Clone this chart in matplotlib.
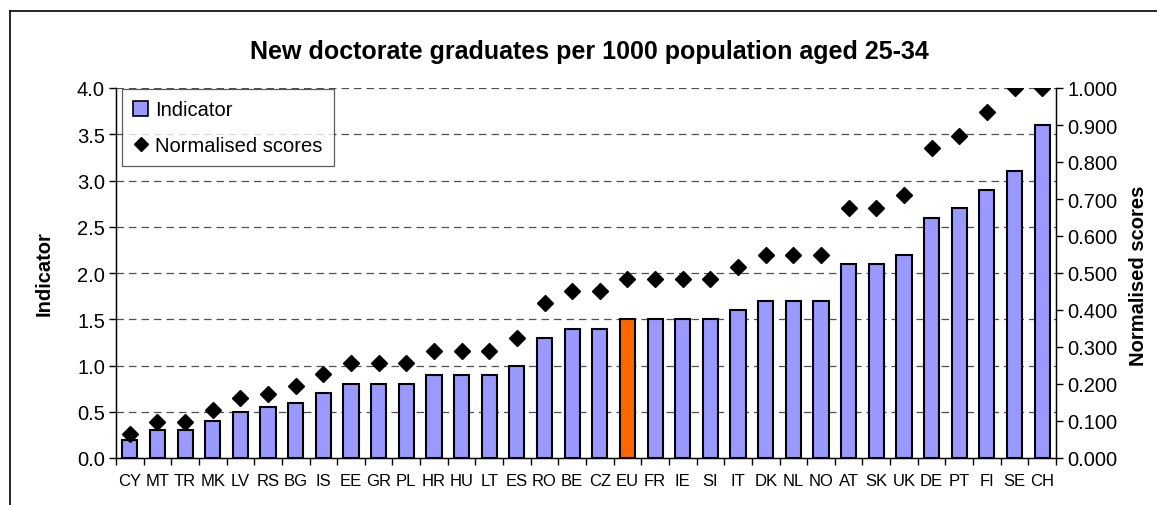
import matplotlib.pyplot as plt
from matplotlib.lines import Line2D
from matplotlib.patches import Patch

plt.rcParams['font.family'] = ['Liberation Sans', 'DejaVu Sans']

countries = ["CY", "MT", "TR", "MK", "LV", "RS", "BG", "IS", "EE", "GR", "PL", "HR",
             "HU", "LT", "ES", "RO", "BE", "CZ", "EU", "FR", "IE", "SI", "IT", "DK",
             "NL", "NO", "AT", "SK", "UK", "DE", "PT", "FI", "SE", "CH"]
indicator = [0.2, 0.3, 0.3, 0.4, 0.5, 0.55, 0.6, 0.7, 0.8, 0.8, 0.8, 0.9,
             0.9, 0.9, 1.0, 1.3, 1.4, 1.4, 1.5, 1.5, 1.5, 1.5, 1.6, 1.7,
             1.7, 1.7, 2.1, 2.1, 2.2, 2.6, 2.7, 2.9, 3.1, 3.6]
scores = [0.065, 0.097, 0.097, 0.129, 0.161, 0.174, 0.194, 0.226, 0.258, 0.258, 0.258, 0.290,
          0.290, 0.290, 0.323, 0.419, 0.452, 0.452, 0.484, 0.484, 0.484, 0.484, 0.516, 0.548,
          0.548, 0.548, 0.677, 0.677, 0.710, 0.839, 0.871, 0.935, 1.0, 1.0]
highlight = "EU"

W, H = 1157, 506
fig = plt.figure(figsize=(W / 100, H / 100), dpi=100)
ax = fig.add_axes([116 / W, 1 - 459 / H, (1056 - 116) / W, (459 - 89) / H])

x = list(range(len(countries)))
colors = ["#FF6600" if c == highlight else "#9999FF" for c in countries]
ax.bar(x, indicator, width=0.55, color=colors, edgecolor="black", linewidth=1.5, zorder=3)

ax.set_xlim(-0.5, len(countries) - 0.5)
ax.set_ylim(0, 4.0)
ax.set_yticks([i * 0.5 for i in range(9)])
ax.set_yticklabels([f"{i * 0.5:.1f}" for i in range(9)], fontsize=14.5)
ax.set_xticks(x)
ax.set_xticklabels(countries, fontsize=12)
ax.tick_params(axis="x", length=0, pad=11)
ax.set_xticks([i + 0.5 for i in range(-1, len(countries))], minor=True)
ax.tick_params(axis="x", which="minor", length=5, width=1, direction="out")
ax.tick_params(axis="y", length=5, width=1, direction="out", pad=3)
for yv in [i * 0.5 for i in range(1, 9)]:
    ax.axhline(yv, color="#505050", linewidth=0.9, dashes=(6, 4), zorder=1)
ax.spines["top"].set_visible(False)
for s in ["left", "right", "bottom"]:
    ax.spines[s].set_linewidth(1.0)

ax2 = ax.twinx()
ax2.plot(x, scores, linestyle="none", marker="D", markersize=8.5, color="black", zorder=4)
ax2.set_ylim(0, 1.0)
ax2.set_yticks([i / 10 for i in range(11)])
ax2.set_yticklabels([f"{i / 10:.3f}" for i in range(11)], fontsize=14.5)
ax2.tick_params(axis="y", length=5, width=1, direction="out", pad=3)
ax2.spines["top"].set_visible(False)

handles = [Patch(facecolor="#9999FF", edgecolor="black", linewidth=1.2),
           Line2D([], [], linestyle="none", marker="D", markersize=7.5, color="black")]
leg = ax2.legend(handles, ["Indicator", "Normalised scores"], loc="upper left",
                 bbox_to_anchor=(0.0065, 0.997), fontsize=14.5, frameon=True, fancybox=False,
                 handlelength=0.75, handleheight=0.75, handletextpad=0.35,
                 borderpad=0.55, labelspacing=0.85, borderaxespad=0)
leg.get_frame().set_edgecolor("#333333")
leg.get_frame().set_linewidth(0.9)

fig.text(589 / W, 1 - 52 / H, "New doctorate graduates per 1000 population aged 25-34",
         ha="center", va="center", fontsize=18, fontweight="bold")
fig.text(44 / W, 1 - 274 / H, "Indicator", ha="center", va="center", rotation=90,
         fontsize=14.5, fontweight="bold")
fig.text(1138 / W, 1 - 276 / H, "Normalised scores", ha="center", va="center", rotation=90,
         fontsize=14.5, fontweight="bold")

fig.add_artist(Line2D([10 / W, 10 / W], [0, 1 - 12 / H], color="black", linewidth=1.2))
fig.add_artist(Line2D([10 / W, 1], [1 - 12 / H, 1 - 12 / H], color="black", linewidth=1.2))

fig.savefig("out.png", dpi=100)
